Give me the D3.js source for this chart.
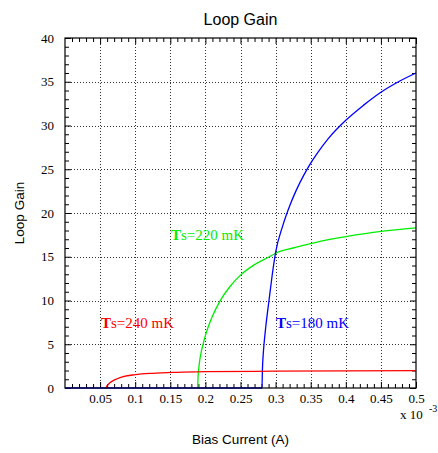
<!DOCTYPE html>
<html>
<head>
<meta charset="utf-8">
<script src="https://cdn.jsdelivr.net/npm/d3@7"></script>
<style>
html,body{margin:0;padding:0;background:#fff;}
svg{display:block;}
</style>
</head>
<body>
<svg id="chart" width="438" height="453"></svg>
<script>
// ---- data ----
const xTicks = [0.05, 0.1, 0.15, 0.2, 0.25, 0.3, 0.35, 0.4, 0.45, 0.5];
const xTickLabels = ["0.05", "0.1", "0.15", "0.2", "0.25", "0.3", "0.35", "0.4", "0.45", "0.5"];
const yTicks = [0, 5, 10, 15, 20, 25, 30, 35, 40];
const yTickLabels = ["0", "5", "10", "15", "20", "25", "30", "35", "40"];

// Ts = 240 mK (red)
const current240 = [0.059, 0.0595, 0.061, 0.064, 0.07, 0.0736, 0.083, 0.1, 0.125, 0.159, 0.2, 0.3, 0.4, 0.5];
const gain240 =    [0,     0.2,    0.35,  0.6,   0.9,  1.03,   1.3,   1.52, 1.68,  1.79,  1.86, 1.92, 1.96, 1.99];

// Ts = 220 mK (green)
const current220 = [0.189, 0.1895, 0.1905, 0.192, 0.194, 0.197, 0.2, 0.205, 0.21, 0.2205, 0.235, 0.25, 0.27, 0.291, 0.3, 0.325, 0.35, 0.375, 0.4, 0.45, 0.5];
const gain220 =    [0,     1.2,    2.2,    3.2,   4.1,   5.1,   6.0, 7.2,   8.2,  9.9,    11.6,  12.9, 14.1, 15,    15.4, 16.0, 16.5, 16.95, 17.3, 17.9, 18.3];

// Ts = 180 mK (blue)
const current180 = [0, 0.2806, 0.2812, 0.2825, 0.2835, 0.286, 0.2906, 0.295, 0.3, 0.31, 0.32, 0.33, 0.34, 0.35, 0.36, 0.375, 0.4, 0.425, 0.45, 0.475, 0.5];
const gain180 =    [0, 0,      2,      4,      5,      7,     10,     12.8,  15.5, 18.5, 20.8, 22.7, 24.3, 25.7, 26.9, 28.5,  30.6, 32.3, 33.8, 35.0, 36.0];

const seriesNames = ["Ts=240 mK", "Ts=220 mK", "Ts=180 mK"];
const seriesColors = ["#ff0000", "#00ee00", "#0000ff"];

// ---- layout ----
const svg = d3.select("#chart");
const pL = 65, pR = 416, pT = 38, pB = 388;
const x = d3.scaleLinear().domain([0, 0.5]).range([pL, pR]);
const y = d3.scaleLinear().domain([0, 40]).range([pB, pT]);

// grid
const grid = svg.append("g");
grid.selectAll("line.gx").data(xTicks.filter(d => d < 0.5)).enter().append("line")
  .attr("x1", d => Math.round(x(d)) + 0.5).attr("x2", d => Math.round(x(d)) + 0.5)
  .attr("y1", pT).attr("y2", pB)
  .attr("stroke", "#000").attr("stroke-width", 1).attr("stroke-dasharray", "1,2").attr("opacity", 0.8);
grid.selectAll("line.gy").data(yTicks.filter(d => d > 0 && d < 40)).enter().append("line")
  .attr("y1", d => Math.round(y(d)) + 0.5).attr("y2", d => Math.round(y(d)) + 0.5)
  .attr("x1", pL).attr("x2", pR)
  .attr("stroke", "#000").attr("stroke-width", 1).attr("stroke-dasharray", "1,2").attr("opacity", 0.8);

// ticks (inward, all four sides) via d3 axes
const minorX = d3.range(1, 50).map(i => i / 100).filter(v => Math.round(v * 100) % 5 !== 0);
const minorY = d3.range(1, 40).filter(v => v % 5 !== 0);

function tickAxis(axisFn, scale, values, size, transform) {
  const g = svg.append("g").attr("transform", transform)
    .call(axisFn(scale).tickValues(values).tickSize(size).tickFormat(""));
  g.select(".domain").remove();
  g.selectAll("line").attr("stroke", "#000");
  return g;
}
tickAxis(d3.axisTop, x, xTicks, 6, `translate(0,${pB})`);
tickAxis(d3.axisTop, x, minorX, 4, `translate(0,${pB})`);
tickAxis(d3.axisBottom, x, xTicks, 6, `translate(0,${pT})`);
tickAxis(d3.axisBottom, x, minorX, 4, `translate(0,${pT})`);
tickAxis(d3.axisRight, y, yTicks, 6, `translate(${pL},0)`);
tickAxis(d3.axisRight, y, minorY, 4, `translate(${pL},0)`);
tickAxis(d3.axisLeft, y, yTicks, 6, `translate(${pR},0)`);
tickAxis(d3.axisLeft, y, minorY, 4, `translate(${pR},0)`);

// tick labels
const serif = "'Liberation Serif', 'Times New Roman', serif";
const xl = svg.append("g").attr("transform", `translate(0,${pB})`)
  .call(d3.axisBottom(x).tickValues(xTicks).tickSize(0).tickPadding(6)
    .tickFormat((d, i) => xTickLabels[i]));
xl.select(".domain").remove();
xl.selectAll("text").attr("font-family", serif).attr("font-size", 13).attr("fill", "#000");

const yl = svg.append("g").attr("transform", `translate(${pL},0)`)
  .call(d3.axisLeft(y).tickValues(yTicks).tickSize(0).tickPadding(11)
    .tickFormat((d, i) => yTickLabels[i]));
yl.select(".domain").remove();
yl.selectAll("text").attr("font-family", serif).attr("font-size", 13).attr("fill", "#000");

// exponent
svg.append("text").attr("x", 400).attr("y", 419)
  .attr("font-family", serif).attr("font-size", 13).text("x 10");
svg.append("text").attr("x", 429).attr("y", 412)
  .attr("font-family", serif).attr("font-size", 10).text("-3");

// curves
const line = d3.line().x(d => x(d[0])).y(d => y(d[1])).curve(d3.curveMonotoneX);
const curves = [
  { xs: current220, ys: gain220, color: seriesColors[1] },
  { xs: current180, ys: gain180, color: seriesColors[2] },
  { xs: current240, ys: gain240, color: seriesColors[0] }
];
curves.forEach(c => {
  svg.append("path").datum(c.xs.map((v, i) => [v, c.ys[i]]))
    .attr("d", line).attr("fill", "none").attr("stroke", c.color).attr("stroke-width", 1.3);
});

// frame
svg.append("rect").attr("x", pL).attr("y", pT).attr("width", pR - pL).attr("height", pB - pT)
  .attr("fill", "none").attr("stroke", "#000").attr("stroke-width", 1.2);

// series labels
const labelPos = [[101, 328, 0], [171, 240, 1], [276, 328, 2]];
labelPos.forEach(([lx, ly, k]) => {
  const t = svg.append("text").attr("x", lx).attr("y", ly)
    .attr("font-family", serif).attr("font-size", 15).attr("fill", seriesColors[k]);
  t.append("tspan").attr("font-weight", "bold").text(seriesNames[k].slice(0, 1));
  t.append("tspan").text(seriesNames[k].slice(1));
});

// titles
const sans = "'Liberation Sans', Arial, Helvetica, sans-serif";
svg.append("text").attr("x", (pL + pR) / 2).attr("y", 25).attr("text-anchor", "middle")
  .attr("font-family", sans).attr("font-size", 16).text("Loop Gain");
svg.append("text").attr("x", (pL + pR) / 2).attr("y", 444).attr("text-anchor", "middle")
  .attr("font-family", sans).attr("font-size", 13.5).text("Bias Current (A)");
svg.append("text").attr("transform", `translate(24,${(pT + pB) / 2}) rotate(-90)`)
  .attr("text-anchor", "middle").attr("font-family", sans).attr("font-size", 13.5).text("Loop Gain");
</script>
</body>
</html>
